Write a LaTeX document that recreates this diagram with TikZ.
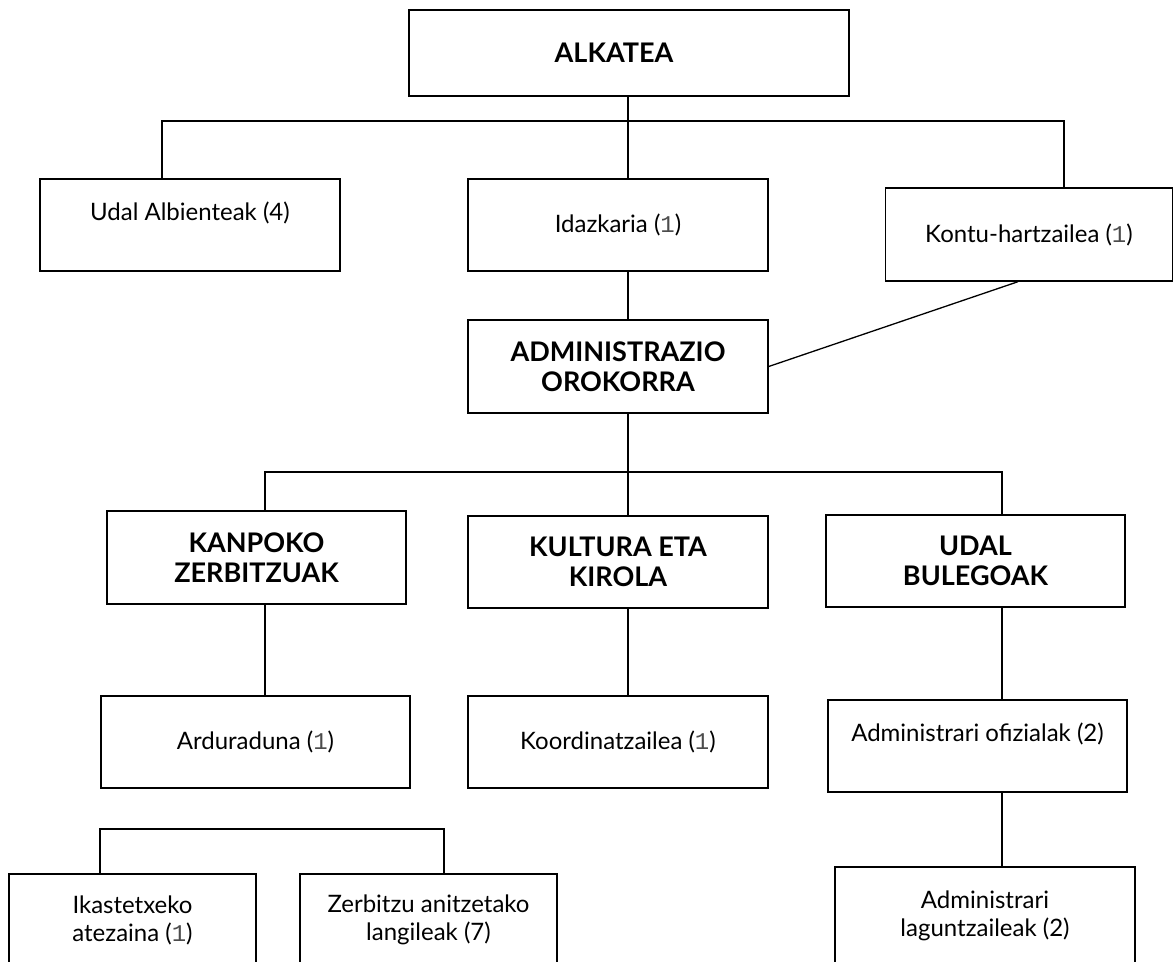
\documentclass[tikz,border=0pt]{standalone}
\usepackage{fontspec}
\setmainfont{Lato}
\newfontfamily\monofnt{Liberation Mono}
\newcommand{\onemono}{{\monofnt\color{black!70}1}}
\begin{document}
\begin{tikzpicture}[x=1pt,y=-1pt,
  box/.style={draw, line width=1.4pt, rectangle, align=center, inner sep=0pt,
    font=\fontsize{24}{28}\selectfont},
  bbox/.style={box, font=\fontsize{27}{29.5}\selectfont\bfseries},
  conn/.style={line width=1.3pt}]
\useasboundingbox (0,0) rectangle (1175,961);
% boxes
\node[bbox, minimum width=440pt, minimum height=86pt] (alk) at (629,53) {ALKATEA\hspace*{30pt}};
\node[box, minimum width=300pt, minimum height=92pt] (uda) at (190,225) {Udal Albienteak (4)\\[-8pt] \strut};
\node[box, minimum width=300pt, minimum height=92pt] (ida) at (618,225) {Idazkaria (\onemono)};
\node[box, minimum width=287pt, minimum height=93pt] (kon) at (1029,234.5) {Kontu-hartzailea (\onemono)};
\node[bbox, minimum width=300pt, minimum height=93pt] (adm) at (618,366.5) {ADMINISTRAZIO\\OROKORRA};
\node[bbox, minimum width=299pt, minimum height=93pt] (kan) at (256.5,557.5) {KANPOKO\\ZERBITZUAK};
\node[bbox, minimum width=300pt, minimum height=92pt] (kul) at (618,562) {KULTURA ETA\\KIROLA};
\node[bbox, minimum width=299pt, minimum height=92pt] (ubu) at (975.5,561) {UDAL\\BULEGOAK};
\node[box, minimum width=309pt, minimum height=92pt] (ard) at (255.5,742) {Arduraduna (\onemono)};
\node[box, minimum width=300pt, minimum height=92pt] (koo) at (618,742) {Koordinatzailea (\onemono)};
\node[box, minimum width=299pt, minimum height=92pt] (aof) at (977.5,746) {Administrari ofizialak (2)\\[-8pt] \strut};
\node[box, minimum width=247pt, minimum height=92pt] (ika) at (132.5,920) {Ikastetxeko\\atezaina (\onemono)};
\node[box, minimum width=257pt, minimum height=92pt] (zer) at (428.5,920) {Zerbitzu anitzetako\\langileak (7)};
\node[box, minimum width=300pt, minimum height=98pt] (alg) at (985,916) {Administrari\\laguntzaileak (2)};
% bus coordinates
\coordinate (b1l) at (162,121);
\coordinate (b1r) at (1064,121);
\coordinate (b2l) at (265,472);
\coordinate (b2r) at (1002,472);
\coordinate (b3l) at (100,829);
\coordinate (b3r) at (444,829);
\coordinate (mid) at (628,0);
% connectors
\draw[conn] (b1l |- uda.north) -- (b1l) -- (b1r) -- (b1r |- kon.north);
\draw[conn] (mid |- alk.south) -- (mid |- ida.north);
\draw[conn] (mid |- ida.south) -- (mid |- adm.north);
\draw[conn] ([xshift=-11pt]kon.south) -- (adm.east);
\draw[conn] (mid |- adm.south) -- (mid |- kul.north);
\draw[conn] (b2l |- kan.north) -- (b2l) -- (b2r) -- (b2r |- ubu.north);
\draw[conn] (b2l |- kan.south) -- (b2l |- ard.north);
\draw[conn] (mid |- kul.south) -- (mid |- koo.north);
\draw[conn] (b2r |- ubu.south) -- (b2r |- aof.north);
\draw[conn] (b2r |- aof.south) -- (b2r |- alg.north);
\draw[conn] (b3l |- ika.north) -- (b3l) -- (b3r) -- (b3r |- zer.north);
\end{tikzpicture}
\end{document}
